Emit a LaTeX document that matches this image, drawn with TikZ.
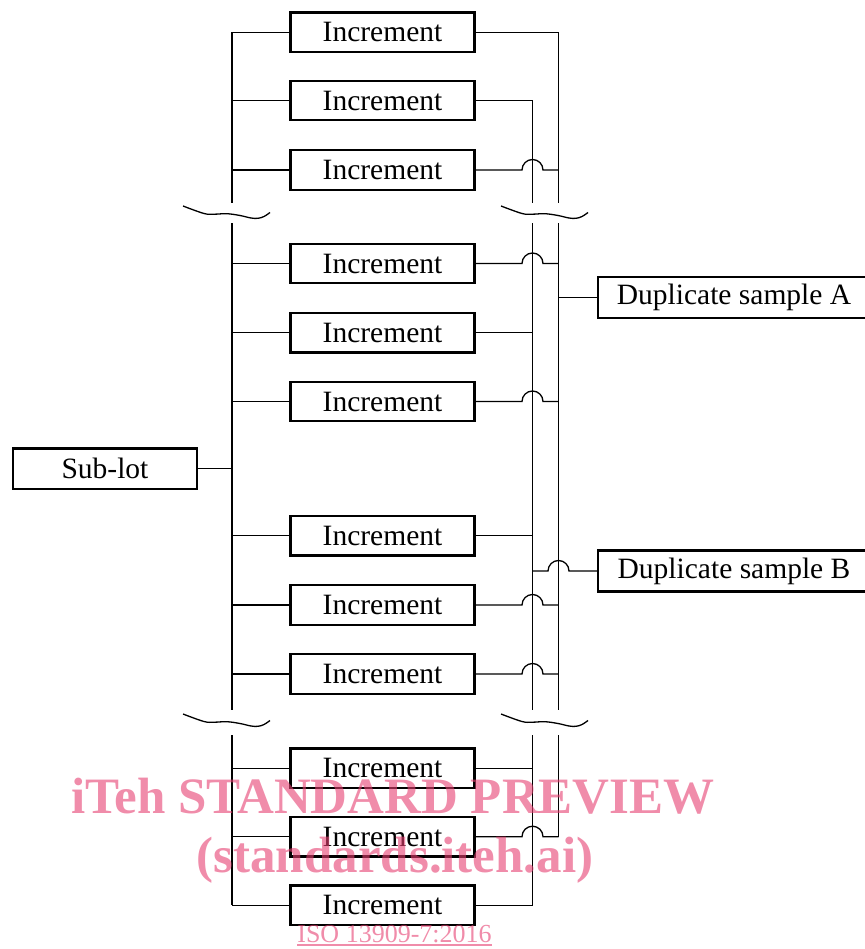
\documentclass[tikz,border=0pt]{standalone}
\usepackage{fontspec}
\setmainfont{Liberation Serif}
\usetikzlibrary{calc}
\definecolor{wm}{RGB}{230,63,113}
\tikzset{
  box/.style={draw, line width=2.2pt, minimum width=184pt, minimum height=39.5pt, inner sep=0pt, font=\fontsize{29.5}{34}\selectfont},
  conn/.style={line width=1.3pt},
  wmtext/.style={text=wm, text opacity=0.6, inner sep=0pt, anchor=base},
}
\begin{document}
\begin{tikzpicture}[x=1pt,y=-1pt]
\useasboundingbox (0,0) rectangle (864,949);
% increment boxes
\foreach \n/\y in {1/32.3,2/100.5,3/170,4/263.5,5/332.7,6/401.5,7/535.8,8/605,9/674,10/768.2,11/836.7,12/905.2}
  \node[box] (i\n) at (382.5,\y) {Increment};
\node[box, minimum width=184.4pt, minimum height=40.5pt] (sub) at (105,468.7) {Sub-lot};
\node[box, minimum width=272pt, minimum height=41pt] (dupA) at (734,297.5) {Duplicate sample A};
\node[box, minimum width=272pt, minimum height=41pt] (dupB) at (734,571) {Duplicate sample B};
% bus coordinates
\coordinate (Lx) at (232,0);
\coordinate (Bx) at (532.5,0);
\coordinate (Ax) at (558.5,0);
\coordinate (t1) at (0,203.5);
\coordinate (t2) at (0,223.5);
\coordinate (u1) at (0,709.5);
\coordinate (u2) at (0,735);
% buses
\draw[conn] (i1.west -| Lx) -- (t1 -| Lx) (t2 -| Lx) -- (u1 -| Lx) (u2 -| Lx) -- (i12.west -| Lx);
\draw[conn] (i2.east -| Bx) -- (t1 -| Bx) (t2 -| Bx) -- (u1 -| Bx) (u2 -| Bx) -- (i12.east -| Bx);
\draw[conn] (i1.east -| Ax) -- (t1 -| Ax) (t2 -| Ax) -- (u1 -| Ax) (u2 -| Ax) -- (i11.east -| Ax);
% left connections
\foreach \n in {1,...,12}
  \draw[conn] (i\n.west) -- (i\n.west -| Lx);
\draw[conn] (sub.east) -- (sub.east -| Lx);
% right connections
\foreach \n in {2,5,7,10,12}
  \draw[conn] (i\n.east) -- (i\n.east -| Bx);
\draw[conn] (i1.east) -- (i1.east -| Ax);
\foreach \n in {3,4,6,8,9,11}
  \draw[conn] (i\n.east) -- ($(i\n.east -| Bx)+(-10.5pt,0)$) arc[start angle=180, end angle=0, radius=10.5pt] -- (i\n.east -| Ax);
\draw[conn] (dupA.west -| Ax) -- (dupA.west);
\draw[conn] (dupB.west -| Bx) -- ($(dupB.west -| Ax)+(-10.5pt,0)$) arc[start angle=180, end angle=0, radius=10.5pt] -- (dupB.west);
% break waves
\foreach \wx/\wy in {183/206, 501/206, 183/714, 501/714}
  \draw[conn, shift={(\wx,\wy)}] plot[smooth, tension=0.6] coordinates {(0,0) (21,7.5) (31,8.2) (44,7.7) (57,9.5) (68,12) (75,12.3) (81,10.5) (87,6.5)};
% watermark
\node[wmtext, font=\fontsize{51}{60}\selectfont\bfseries] (wm1) at (393,813) {iTeh STANDARD PREVIEW};
\node[wmtext, font=\fontsize{51}{60}\selectfont\bfseries] (wm2) at (395,872) {(standards.iteh.ai)};
\node[wmtext, font=\fontsize{26}{30}\selectfont] (wm3) at (394.5,942) {ISO 13909-7:2016};
\draw[wm, opacity=0.6, line width=1.1pt] ($(wm3.base west)+(0,3)$) -- ($(wm3.base east)+(0,3)$);
\end{tikzpicture}
\end{document}
